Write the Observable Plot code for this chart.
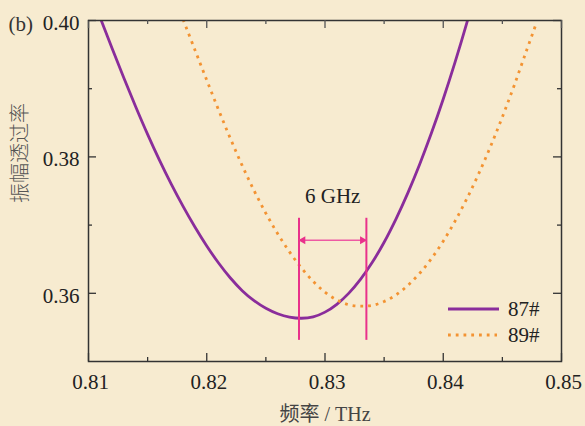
<!DOCTYPE html>
<html>
<head>
<meta charset="utf-8">
<script src="https://cdn.jsdelivr.net/npm/d3@7"></script>
<script src="https://cdn.jsdelivr.net/npm/@observablehq/plot@0.6"></script>
<style>
  html, body { margin: 0; padding: 0; background: #F7EBD0; }
  #chart { position: relative; width: 585px; height: 426px; }
  #legend { position: absolute; left: 448px; top: 296px; font-family: 'Liberation Serif', serif; font-size: 21px; color: #222; }
  #legend .row { display: flex; align-items: center; height: 26px; }
  #legend span { margin-left: 8px; }
</style>
</head>
<body>
<div id="chart"></div>
<script>
// ---- data ----
const freq87 = [0.811,0.812,0.813,0.814,0.815,0.816,0.817,0.818,0.819,0.820,0.821,0.822,0.823,0.824,0.825,0.826,0.827,0.828,0.829,0.830,0.831,0.832,0.833,0.834,0.835,0.836,0.837,0.838,0.839,0.840,0.841,0.842,0.843];
const amp87  = [0.40036,0.39590,0.39154,0.38732,0.38330,0.37952,0.37600,0.37274,0.36972,0.36694,0.36444,0.36224,0.36039,0.35892,0.35780,0.35700,0.35651,0.35634,0.35654,0.35724,0.35839,0.35999,0.36204,0.36454,0.36749,0.37089,0.37469,0.37889,0.38349,0.38849,0.39389,0.39969,0.40589];
const freq89 = [0.818,0.819,0.820,0.821,0.822,0.823,0.824,0.825,0.826,0.827,0.828,0.829,0.830,0.831,0.832,0.833,0.834,0.835,0.836,0.837,0.838,0.839,0.840,0.841,0.842,0.843,0.844,0.845,0.846,0.847,0.8478];
const amp89  = [0.40015,0.39569,0.39125,0.38689,0.38269,0.37873,0.37507,0.37173,0.36873,0.36607,0.36373,0.36175,0.36017,0.35902,0.35832,0.35812,0.35824,0.35879,0.35976,0.36114,0.36292,0.36509,0.36765,0.37059,0.37389,0.37754,0.38154,0.38586,0.39048,0.39538,0.39925];

const seriesNames = ["87#", "89#"];
const seriesColors = ["#8A2D9B", "#F39332"];

const xMajor = [0.81, 0.82, 0.83, 0.84, 0.85];
const xMinor = [0.815, 0.825, 0.835, 0.845];
const yMajor = [0.36, 0.38, 0.40];
const yMinor = [0.37, 0.39];

// annotation: 6 GHz shift between the two minima
const gapX = [0.8278, 0.8335];
const gapRuleY = [0.3531, 0.3710];
const gapArrowY = [0.36777];
const gapLabel = ["6 GHz"];
const gapLabelY = [0.37417];

const panelLabel = ["(b)"];
const xLabel = ["频率 / THz"];
const yLabel = ["振幅透过率"];

// ---- tables ----
const d87 = freq87.map((f, i) => ({f, a: amp87[i]}));
const d89 = freq89.map((f, i) => ({f, a: amp89[i]}));

const pink = "#E9318B";
const pinkLight = "#EE5AA3";
const axisCol = "#333";
const serif = "'Liberation Serif', 'Noto Sans CJK SC', serif";
const dotDash = "2.8 4.95";

const chart = Plot.plot({
  width: 585,
  height: 426,
  marginLeft: 88,
  marginRight: 24,
  marginTop: 20,
  marginBottom: 65,
  style: {background: "#F7EBD0", fontFamily: serif, fontSize: "21px", color: "#222", overflow: "visible"},
  x: {domain: [0.81, 0.85]},
  y: {domain: [0.35, 0.40]},
  marks: [
    // curves
    Plot.line(d87, {x: "f", y: "a", stroke: seriesColors[0], strokeWidth: 2.8, curve: "catmull-rom", clip: true}),
    Plot.line(d89, {x: "f", y: "a", stroke: seriesColors[1], strokeWidth: 2.8, strokeDasharray: dotDash, strokeLinecap: "butt", curve: "catmull-rom", clip: true}),
    // annotation
    Plot.ruleX(gapX, {x: d => d, y1: gapRuleY[0], y2: gapRuleY[1], stroke: pink, strokeWidth: 2}),
    Plot.link(gapArrowY, {x1: gapX[0], x2: gapX[1], y1: d => d, y2: d => d, stroke: pinkLight, strokeWidth: 1.6}),
    Plot.dot(gapArrowY, {x: gapX[0], y: d => d, symbol: "triangle", rotate: -90, r: 3, dx: 4, fill: pink, stroke: "none"}),
    Plot.dot(gapArrowY, {x: gapX[1], y: d => d, symbol: "triangle", rotate: 90, r: 3, dx: -4, fill: pink, stroke: "none"}),
    Plot.text(gapLabel, {x: (gapX[0] + gapX[1]) / 2, y: gapLabelY[0], text: d => d, fill: "#222", fontSize: 21, lineAnchor: "middle"}),
    // frame
    Plot.frame({stroke: axisCol, strokeWidth: 1.5}),
    // inward ticks
    Plot.ruleX(xMajor, {x: d => d, stroke: axisCol, strokeWidth: 1.3, insetTop: 333}),
    Plot.ruleX(xMajor, {x: d => d, stroke: "#555", strokeWidth: 1.3, insetBottom: 333}),
    Plot.ruleX(xMinor, {x: d => d, stroke: axisCol, strokeWidth: 1.3, insetTop: 337}),
    Plot.ruleX(xMinor, {x: d => d, stroke: "#555", strokeWidth: 1.3, insetBottom: 337}),
    Plot.ruleY(yMajor, {y: d => d, stroke: axisCol, strokeWidth: 1.3, insetRight: 465}),
    Plot.ruleY(yMajor, {y: d => d, stroke: axisCol, strokeWidth: 1.3, insetLeft: 465}),
    Plot.ruleY(yMinor, {y: d => d, stroke: axisCol, strokeWidth: 1.3, insetRight: 469}),
    Plot.ruleY(yMinor, {y: d => d, stroke: axisCol, strokeWidth: 1.3, insetLeft: 469}),
    // tick labels
    Plot.axisX({ticks: xMajor, tickSize: 0, tickPadding: 13, tickFormat: d3.format(".2f"), label: null, fontSize: 21, dx: 2, fill: "#222"}),
    Plot.axisY({ticks: yMajor, tickSize: 0, tickPadding: 9, tickFormat: d3.format(".2f"), label: null, fontSize: 21, dy: 2.5, fill: "#222"}),
    // axis titles
    Plot.text(xLabel, {frameAnchor: "bottom", dy: 53, text: d => d, lineAnchor: "middle", fontSize: 20, fill: "#444"}),
    Plot.text(yLabel, {frameAnchor: "left", dx: -68, dy: 12, rotate: -90, text: d => d, lineAnchor: "middle", fontSize: 20, fill: "#555", fontFamily: "Noto Sans CJK SC", fontWeight: 300}),
    Plot.text(panelLabel, {frameAnchor: "top-left", dx: -80, dy: 4, text: d => d, textAnchor: "start", lineAnchor: "middle", fontSize: 21, fill: "#333"})
  ]
});

const host = document.getElementById("chart");
host.appendChild(chart);

// legend overlay
const legend = document.createElement("div");
legend.id = "legend";
seriesNames.forEach((name, i) => {
  const row = document.createElement("div");
  row.className = "row";
  const dash = i === 1 ? `stroke-dasharray="${dotDash}"` : "";
  const w = i === 1 ? 49 : 51;
  row.innerHTML = `<svg width="52" height="6"><line x1="0" x2="${w}" y1="3" y2="3" stroke="${seriesColors[i]}" stroke-width="2.8" ${dash}/></svg><span>${name}</span>`;
  legend.appendChild(row);
});
host.appendChild(legend);
</script>
</body>
</html>
